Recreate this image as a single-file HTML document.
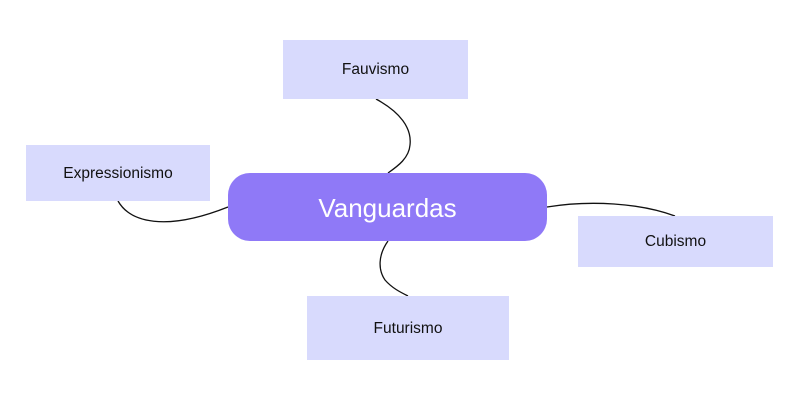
<!DOCTYPE html>
<html><head><style>
body{margin:0;width:800px;height:400px;background:#fff;position:relative;overflow:hidden;font-family:"Liberation Sans",sans-serif}
.b{position:absolute;background:#d8dafd;color:#111;font-size:15.5px;display:flex;align-items:center;justify-content:center;padding-top:1px;box-sizing:border-box}
</style></head><body>
<svg width="800" height="400" style="position:absolute;left:0;top:0">
<g fill="none" stroke="#111" stroke-width="1.3">
<path d="M376 99 C400 112 412 128 410 145 C409 158 398 166 388 173"/>
<path d="M118 201 C130 222 165 232 228 207"/>
<path d="M547 207 C590 200 640 203 675 216"/>
<path d="M388 241 C378 255 378 270 385 280 C392 288 400 292 408 296"/>
</g></svg>
<div class="b" style="left:283px;top:40px;width:185px;height:59px">Fauvismo</div>
<div class="b" style="left:26px;top:145px;width:184px;height:56px">Expressionismo</div>
<div class="b" style="left:578px;top:216px;width:195px;height:51px">Cubismo</div>
<div class="b" style="left:307px;top:296px;width:202px;height:64px">Futurismo</div>
<div style="position:absolute;left:228px;top:173px;width:319px;height:68px;border-radius:22px;background:#8f79f7;color:#fff;font-size:26px;display:flex;align-items:center;justify-content:center;padding-top:2px;box-sizing:border-box">Vanguardas</div>
</body></html>
